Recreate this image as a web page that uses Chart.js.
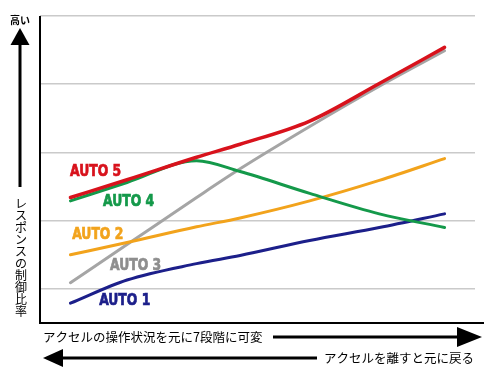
<!DOCTYPE html>
<html>
<head>
<meta charset="utf-8">
<script src="https://cdn.jsdelivr.net/npm/chart.js@4"></script>
<style>
  html, body { margin: 0; padding: 0; background: #fff; }
  #box { width: 484px; height: 373px; }
</style>
</head>
<body>
<div id="box"><canvas id="chart" width="484" height="373"></canvas></div>
<script>
// accelerator position (%), shared by all series
const accel = [7, 20, 36, 46, 62, 78, 93];

const auto5 = [1.84, 2.10, 2.43, 2.62, 2.96, 3.51, 4.04];
const auto4 = [1.79, 2.06, 2.38, 2.22, 1.90, 1.60, 1.40];
const auto3 = [0.59, 1.15, 1.84, 2.26, 2.88, 3.47, 3.99];
const auto2 = [1.00, 1.18, 1.41, 1.54, 1.79, 2.09, 2.41];
const auto1 = [0.29, 0.63, 0.87, 0.99, 1.21, 1.40, 1.60];

const seriesNames = ["AUTO 5", "AUTO 4", "AUTO 2", "AUTO 1", "AUTO 3"];
const seriesData = [auto5, auto4, auto2, auto1, auto3];
const seriesColors = ["#d8121c", "#14994a", "#f2a31c", "#1c1f8a", "#a5a5a5"];
const labelColors = ["#d8121c", "#14994a", "#f2a31c", "#1c1f8a", "#8e8e8e"];
// where each series name is written (x %, y value)
const labelAt = [[6.9, 2.22], [14.5, 1.78], [7.4, 1.29], [13.6, 0.33], [16.1, 0.84]];

const yGrid = [0.5, 1.5, 2.5, 3.5, 4.5];

const yTitleTop = "高い";
const yTitle = "レスポンスの制御比率";
const xNote1 = "アクセルの操作状況を元に7段階に可変";
const xNote2 = "アクセルを離すと元に戻る";

const JP = '"Noto Sans CJK JP", "Noto Sans", sans-serif';

function arrowHead(ctx, tipX, tipY, dir, len, half) {
  ctx.beginPath();
  if (dir === "up") {
    ctx.moveTo(tipX, tipY);
    ctx.lineTo(tipX - half, tipY + len);
    ctx.lineTo(tipX + half, tipY + len);
  } else if (dir === "right") {
    ctx.moveTo(tipX, tipY);
    ctx.lineTo(tipX - len, tipY - half);
    ctx.lineTo(tipX - len, tipY + half);
  } else {
    ctx.moveTo(tipX, tipY);
    ctx.lineTo(tipX + len, tipY - half);
    ctx.lineTo(tipX + len, tipY + half);
  }
  ctx.closePath();
  ctx.fill();
}

const decor = {
  id: "decor",
  afterDatasetsDraw(chart) {
    const ctx = chart.ctx;
    const a = chart.chartArea;
    const xs = chart.scales.x, ys = chart.scales.y;
    ctx.save();

    // series names
    ctx.textBaseline = "middle";
    ctx.textAlign = "left";
    seriesNames.forEach((name, i) => {
      ctx.save();
      ctx.translate(xs.getPixelForValue(labelAt[i][0]), ys.getPixelForValue(labelAt[i][1]));
      ctx.scale(0.86, 1);
      ctx.font = 'bold 16px "Liberation Sans Narrow", "DejaVu Sans Condensed", sans-serif';
      ctx.fillStyle = labelColors[i];
      ctx.strokeStyle = labelColors[i];
      ctx.lineWidth = 0.7;
      ctx.fillText(name, 0, 0);
      ctx.strokeText(name, 0, 0);
      ctx.restore();
    });

    // axes
    ctx.fillStyle = "#000";
    ctx.fillRect(a.left - 1, a.top, 2, a.bottom - a.top + 1);
    ctx.fillRect(a.left - 1, a.bottom - 1, chart.width - a.left + 1, 2);

    // y title + up arrow
    ctx.font = "bold 10px " + JP;
    ctx.textAlign = "center";
    ctx.fillText(yTitleTop, 20, 20);
    arrowHead(ctx, 20, 28, "up", 17, 9.5);
    ctx.fillRect(18.5, 44, 3, 143);
    ctx.font = "12px " + JP;
    [...yTitle].forEach((ch, i) => ctx.fillText(ch, 21, 203 + i * 12.1));

    // bottom notes with arrows
    ctx.textAlign = "left";
    ctx.font = "12.5px " + JP;
    ctx.fillText(xNote1, 43, 337);
    ctx.fillRect(273, 335.5, 187, 3);
    arrowHead(ctx, 482, 337, "right", 25, 10);

    arrowHead(ctx, 43, 358, "left", 20, 9);
    ctx.fillRect(62, 356.5, 255, 3);
    ctx.fillText(xNote2, 324, 358);

    ctx.restore();
  }
};

new Chart(document.getElementById("chart"), {
  type: "line",
  data: {
    datasets: seriesNames.map((name, i) => ({
      label: name,
      data: accel.map((x, j) => ({ x: x, y: seriesData[i][j] })),
      borderColor: seriesColors[i],
      borderWidth: i === 0 ? 3.5 : 3,
      pointRadius: 0,
      cubicInterpolationMode: "monotone",
      borderCapStyle: "round",
      fill: false
    }))
  },
  options: {
    responsive: false,
    devicePixelRatio: 1,
    animation: false,
    layout: { padding: { left: 40, right: 9, top: 16, bottom: 50 } },
    plugins: { legend: { display: false }, tooltip: { enabled: false } },
    scales: {
      x: { type: "linear", min: 0, max: 100, display: false },
      y: {
        min: 0,
        max: 4.5,
        afterBuildTicks: (axis) => { axis.ticks = yGrid.map((v) => ({ value: v })); },
        ticks: { display: false },
        border: { display: false },
        grid: { color: "#cacaca", lineWidth: 1.5, drawTicks: false }
      }
    }
  },
  plugins: [decor]
});
</script>
</body>
</html>
